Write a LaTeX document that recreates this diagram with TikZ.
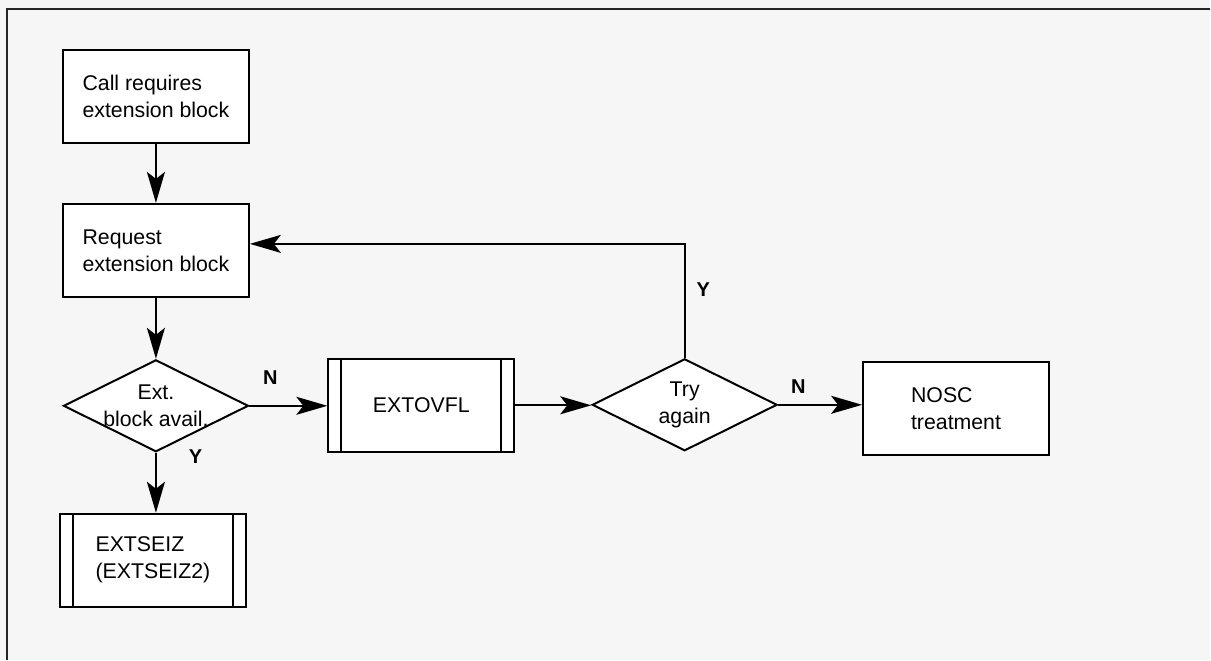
\documentclass[tikz,border=0pt]{standalone}
\usepackage{fontspec}
\setmainfont{Liberation Sans}
\usetikzlibrary{arrows.meta,shapes.geometric}

\begin{document}
\begin{tikzpicture}[x=1pt,y=-1pt,
    box/.style={draw,fill=white,line width=2pt,minimum width=186pt,minimum height=93pt,
        align=left,font=\fontsize{21.3}{27}\selectfont},
    subproc/.style={box,align=center,path picture={
        \draw[line width=2pt] ([xshift=13pt]path picture bounding box.north west)
            -- ([xshift=13pt]path picture bounding box.south west);
        \draw[line width=2pt] ([xshift=-13pt]path picture bounding box.north east)
            -- ([xshift=-13pt]path picture bounding box.south east);}},
    decision/.style={diamond,draw,fill=white,line width=2pt,inner sep=0pt,aspect=2,
        minimum width=185pt,minimum height=92pt},
    dtext/.style={align=center,font=\fontsize{21.3}{27}\selectfont},
    lbl/.style={inner sep=0pt,font=\fontsize{20}{24}\selectfont\bfseries},
    flow/.style={line width=2pt,-{Stealth[length=31pt,width=18pt,inset=7pt]}}]

    % Background and frame
    \fill[gray!7] (0,0) rectangle (1211,660);
    \draw[line width=1.2pt,black!85] (1211,9) -- (7,9) -- (7,660);

    % Boxes
    \node[box] (start) at (156,96.5) {Call requires\\extension block};
    \node[box] (request) at (156,250.5) {Request\\extension block};
    \node[decision,label={[dtext]center:Ext.\\block avail.}] (avail) at (156,406) {};
    \node[subproc] (extovfl) at (421.5,405.5) {EXTOVFL};
    \node[decision,label={[dtext]center:Try\\again}] (retry) at (685,405) {};
    \node[box] (nosc) at (956.5,408.5) {NOSC\\treatment};
    \node[subproc,align=left] (extseiz) at (153,560.5) {EXTSEIZ\\(EXTSEIZ2)};

    % Connectors
    \draw[flow] (start) -- (request);
    \draw[flow] (request) -- (avail);
    \draw[flow] (avail.east) -- node[lbl,pos=0.27,above=20pt]{N} (avail.east -| extovfl.west);
    \draw[flow] (avail.south) -- node[lbl,pos=0,anchor=north west,xshift=32pt,yshift=4pt]{Y}
        (avail.south |- extseiz.north);
    \draw[flow] (extovfl.east) -- (extovfl.east -| retry.west);
    \draw[flow] (retry.east) -- node[lbl,pos=0.24,above=10pt]{N} (retry.east -| nosc.west);
    \draw[flow] (retry.north) |- node[lbl,pos=0.3,right=11pt]{Y} ([yshift=6.5pt]request.east);
\end{tikzpicture}
\end{document}
